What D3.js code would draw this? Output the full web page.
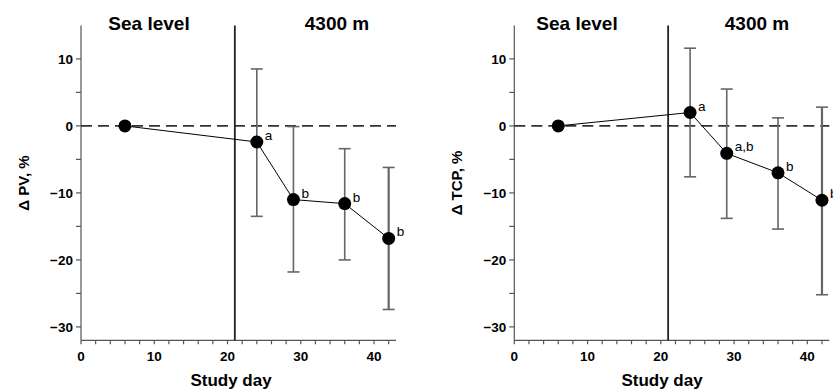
<!DOCTYPE html>
<html><head><meta charset="utf-8">
<script src="https://cdn.jsdelivr.net/npm/d3@7"></script>
<style>body{margin:0;background:#fff}svg{display:block}</style>
</head><body>
<script>
const days = [6, 24, 29, 36, 42];
const pvMean = [0, -2.4, -11.0, -11.6, -16.8];
const pvUpper = [null, 8.5, -0.1, -3.4, -6.2];
const pvLower = [null, -13.5, -21.8, -20.0, -27.4];
const pvLabels = ["", "a", "b", "b", "b"];
const tcpMean = [0, 2.0, -4.1, -7.0, -11.1];
const tcpUpper = [null, 11.6, 5.5, 1.2, 2.8];
const tcpLower = [null, -7.6, -13.8, -15.4, -25.2];
const tcpLabels = ["", "a", "a,b", "b", "b"];
const yTicks = [-30, -20, -10, 0, 10];
const xTicks = [0, 10, 20, 30, 40];
const phaseLabels = ["Sea level", "4300 m"];
const altitudeDay = 21;

const W = 833, H = 390;
const svg = d3.select("body").append("svg").attr("width", W).attr("height", H);
const font = "Liberation Sans, Arial, sans-serif";

function panel(x0, yLabel, mean, upper, lower, labels, seaX, altX, xlabX, ylabX) {
  const x = d3.scaleLinear().domain([0, 43]).range([x0, x0 + 315]);
  const y = d3.scaleLinear().domain([-32, 15]).range([340.3, 25.4]);
  const g = svg.append("g");
  const axisCol = "#555";
  g.append("line").attr("x1", x(0)).attr("x2", x(0)).attr("y1", y(15)).attr("y2", y(-32)).attr("stroke", axisCol).attr("stroke-width", 1.2);
  d3.range(-30, 15, 5).forEach(v => {
    g.append("line").attr("x1", x(0) - 5).attr("x2", x(0)).attr("y1", y(v)).attr("y2", y(v)).attr("stroke", axisCol).attr("stroke-width", 1.2);
  });
  yTicks.forEach(v => {
    g.append("text").attr("x", x(0) - 8).attr("y", y(v)).attr("dy", "0.35em").attr("text-anchor", "end")
      .attr("font-family", font).attr("font-weight", "bold").attr("font-size", 13.5).text(v < 0 ? "\u2212" + Math.abs(v) : v);
  });
  g.append("line").attr("x1", x(0)).attr("x2", x(43)).attr("y1", y(-32)).attr("y2", y(-32)).attr("stroke", axisCol).attr("stroke-width", 1.2);
  d3.range(0, 43, 2).forEach(v => {
    g.append("line").attr("x1", x(v)).attr("x2", x(v)).attr("y1", y(-32)).attr("y2", y(-32) + 4).attr("stroke", axisCol).attr("stroke-width", 1.2);
  });
  xTicks.forEach(v => {
    g.append("text").attr("x", x(v)).attr("y", y(-32) + 21).attr("text-anchor", "middle")
      .attr("font-family", font).attr("font-weight", "bold").attr("font-size", 13.5).text(v);
  });
  g.append("text").attr("x", xlabX).attr("y", 386).attr("text-anchor", "middle")
    .attr("font-family", font).attr("font-weight", "bold").attr("font-size", 17).text("Study day");
  g.append("text").attr("transform", `translate(${ylabX},183) rotate(-90)`).attr("text-anchor", "middle")
    .attr("font-family", font).attr("font-weight", "bold").attr("font-size", 15).text(yLabel);
  g.append("text").attr("x", seaX).attr("y", 30).attr("text-anchor", "middle")
    .attr("font-family", font).attr("font-weight", "bold").attr("font-size", 19).text(phaseLabels[0]);
  g.append("text").attr("x", altX).attr("y", 30).attr("text-anchor", "middle")
    .attr("font-family", font).attr("font-weight", "bold").attr("font-size", 19).text(phaseLabels[1]);
  g.append("line").attr("x1", x(0)).attr("x2", x(43)).attr("y1", y(0)).attr("y2", y(0))
    .attr("stroke", "#333").attr("stroke-width", 1.8).attr("stroke-dasharray", "11,6");
  g.append("line").attr("x1", x(altitudeDay)).attr("x2", x(altitudeDay)).attr("y1", y(15)).attr("y2", y(-32))
    .attr("stroke", "#222").attr("stroke-width", 1.8);
  days.forEach((d, i) => {
    if (upper[i] == null) return;
    const c = "#666";
    const sw = i === 4 ? 2.2 : 1.6;
    g.append("line").attr("x1", x(d)).attr("x2", x(d)).attr("y1", y(upper[i])).attr("y2", y(lower[i])).attr("stroke", c).attr("stroke-width", sw);
    [upper[i], lower[i]].forEach(v => {
      g.append("line").attr("x1", x(d) - 6).attr("x2", x(d) + 6).attr("y1", y(v)).attr("y2", y(v)).attr("stroke", c).attr("stroke-width", 1.6);
    });
  });
  g.append("path").datum(days.map((d, i) => [d, mean[i]]))
    .attr("d", d3.line().x(p => x(p[0])).y(p => y(p[1])))
    .attr("fill", "none").attr("stroke", "#000").attr("stroke-width", 1);
  g.selectAll(".pt").data(days).enter().append("circle")
    .attr("cx", d => x(d)).attr("cy", (d, i) => y(mean[i])).attr("r", 6.5).attr("fill", "#000");
  days.forEach((d, i) => {
    if (!labels[i]) return;
    g.append("text").attr("x", x(d) + 8).attr("y", y(mean[i]) - 2)
      .attr("font-family", font).attr("font-size", 13.5).attr("fill", "#000").text(labels[i]);
  });
}

panel(81, "\u0394 PV, %", pvMean, pvUpper, pvLower, pvLabels, 149, 337, 231, 29);
panel(514.3, "\u0394 TCP, %", tcpMean, tcpUpper, tcpLower, tcpLabels, 577, 757, 662, 462);
</script>
</body></html>
